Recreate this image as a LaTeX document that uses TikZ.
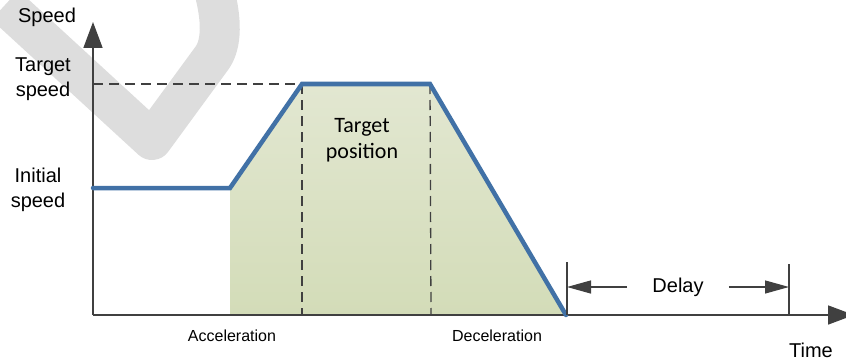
\documentclass[tikz,border=0pt]{standalone}
\usepackage{fontspec}
\setmainfont{Liberation Sans}
\newfontfamily\calibrifont{Carlito}
\usetikzlibrary{arrows.meta}

\definecolor{speedblue}{RGB}{65,113,166}
\definecolor{axisgray}{RGB}{64,64,64}
\definecolor{marklight}{RGB}{221,221,221}
\definecolor{filltop}{RGB}{226,231,209}
\definecolor{fillbot}{RGB}{211,220,184}

\begin{document}
\begin{tikzpicture}[x=1pt,y=-1pt,
  axis/.style={axisgray,line width=1.6pt,-{Triangle[length=26pt,width=19pt]}},
  guide/.style={axisgray,line width=1.3pt,dash pattern=on 10pt off 6pt},
  profile/.style={speedblue,line width=4.5pt,line cap=round},
  delayarrow/.style={axisgray,line width=1.2pt,-{Triangle[length=24pt,width=13pt]}},
  lbl/.style={font=\fontsize{20}{25}\selectfont,align=center,inner sep=0pt},
  small/.style={font=\fontsize{16}{19}\selectfont,inner sep=0pt}]

\useasboundingbox (0,0) rectangle (846,361);

% mark in the background
\begin{scope}
\clip (0,0) rectangle (846,361);
\draw[marklight,line width=40pt,line join=round] (5,5) -- (152,140) -- (212,58)
  .. controls (222,44) and (222,20) .. (214,-10);
\end{scope}

\coordinate (O) at (93,315);
\coordinate (ytop) at (93,22);
\coordinate (xend) at (854,315);
\coordinate (v0) at (93,188);  % initial speed
\coordinate (a0) at (230,188); % start acceleration
\coordinate (a1) at (302,84);  % end acceleration
\coordinate (d0) at (430,84);  % start deceleration
\coordinate (d1) at (566,315); % end deceleration
\coordinate (vt) at (93,84);
\coordinate (a0b) at (230,315);
\coordinate (a1b) at (302,315);
\coordinate (d0b) at (431,315);
\coordinate (dl0) at (567,262);
\coordinate (dl0b) at (567,315);
\coordinate (dl1) at (789,264);
\coordinate (dl1b) at (789,315);

% area = target position
\shade[top color=filltop,bottom color=fillbot] (a0b) -- (a0) -- (a1) -- (d0) -- (d1) -- cycle;

\draw[guide] (vt) -- (a1);
\draw[guide] (a1) -- (a1b);
\draw[guide] (d0) -- (d0b);

\draw[axis] (O) -- (ytop);
\draw[axis] (O) -- (xend);

\draw[profile] (v0) -- (a0) -- (a1) -- (d0) -- (d1);

\draw[axisgray,line width=1.2pt] (dl0) -- (dl0b);
\draw[axisgray,line width=1.2pt] (dl1) -- (dl1b);

\node[lbl] (speed) at (47,17) {Speed};
\node[lbl] (tspeed) at (43,79) {Target\\speed};
\node[lbl] (ispeed) at (38,190) {Initial\\speed};
\node[lbl,font=\calibrifont\fontsize{22}{26}\selectfont] (tpos) at (362,140) {Target\\position};
\node[small] (acc) at (232,336) {Acceleration};
\node[small] (dec) at (497,336) {Deceleration};
\node[lbl] (time) at (811,350) {Time};
\node[lbl] (delay) at (678,287) {Delay};

\draw[delayarrow] ([xshift=-25pt]delay.west) -- (dl0 |- delay);
\draw[delayarrow] ([xshift=25pt]delay.east) -- (dl1 |- delay);

\end{tikzpicture}
\end{document}
